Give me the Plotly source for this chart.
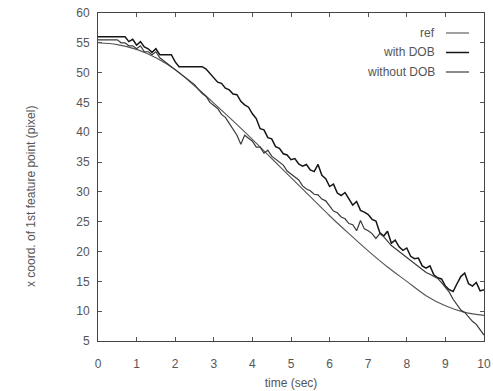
import plotly.graph_objects as go

# time axes
t_ref = [i * 0.5 for i in range(21)]
t_meas = [round(i * 0.1, 1) for i in range(101)]

ref = [55.0, 54.7, 53.9, 52.5, 50.5, 47.8, 44.9, 41.9, 38.8, 35.6, 32.4,
       29.2, 26.0, 23.0, 20.1, 17.4, 15.0, 12.6, 10.9, 9.8, 9.3]

with_dob = [56, 56, 56, 56, 56, 56, 56, 56, 55.2, 55.6,
            54.6, 55.2, 54.3, 54.0, 53.4, 54.0, 53.0, 53.0, 53.0, 53.0,
            51.8, 51.0, 51.0, 51.0, 51.0, 51.0, 51.0, 51.0, 50.6, 49.8,
            49.2, 48.4, 48.2, 47.4, 47.1, 46.4, 46.3, 45.2, 44.6, 44.2,
            43.1, 42.3, 40.6, 40.4, 39.1, 38.9, 37.6, 37.3, 36.4, 36.2,
            35.4, 35.6, 34.7, 34.3, 34.6, 33.7, 33.4, 34.6, 32.8, 32.2,
            30.9, 31.3, 29.8, 29.4, 29.9, 28.8, 27.8, 28.4, 26.9, 26.6,
            26.2, 25.4, 25.1, 23.2, 22.6, 23.4, 21.4, 21.9, 20.8, 20.2,
            20.6, 19.2, 18.8, 18.9, 17.6, 17.2, 17.6, 16.1, 15.6, 15.4,
            14.2, 13.6, 13.3, 14.6, 15.8, 16.4, 14.6, 14.2, 14.8, 13.4,
            13.6]

without_dob = [55.5, 55.5, 55.5, 55.5, 55.5, 55.5, 55.0, 55.0, 54.5, 54.5,
               54.0, 54.5, 53.5, 53.5, 53.0, 53.5, 52.5, 52.0, 51.5, 51.0,
               50.5, 50.0, 49.5, 49.0, 48.5, 48.0, 47.2, 46.5, 46.0, 45.0,
               44.5, 44.0, 43.0, 42.5, 41.5, 40.5, 39.5, 38.0, 39.5, 39.0,
               38.5, 37.5, 37.5, 36.5, 37.0, 36.0, 35.5, 35.0, 34.5, 33.5,
               33.0, 32.5, 32.0, 31.0, 30.5, 30.2, 29.6, 29.5, 28.8, 28.5,
               27.7, 26.8, 26.5, 25.8, 25.5, 24.7, 24.5, 23.5, 25.2, 23.8,
               23.5, 23.0, 22.2, 23.0, 22.5, 21.8, 21.0, 20.5, 20.0, 19.5,
               19.0, 18.5, 18.0, 17.5, 17.0, 16.5, 16.2, 15.8, 15.5, 14.8,
               14.0, 13.2, 12.0, 11.0, 10.2, 9.8, 9.0, 8.3, 7.8, 6.8,
               6.0]

x_ticks = list(range(0, 11))
y_ticks = list(range(5, 61, 5))

legend_names = ["ref", "with DOB", "without DOB"]
legend_colors = ["#555555", "#151515", "#3a3a3a"]
legend_widths = [1.1, 1.5, 1.2]

FONT = "Liberation Sans, Arial, sans-serif"
TXT = "#555555"

fig = go.Figure()
fig.add_trace(go.Scatter(x=t_ref, y=ref, mode="lines", name=legend_names[0],
                         line=dict(color=legend_colors[0], width=legend_widths[0], shape="spline")))
fig.add_trace(go.Scatter(x=t_meas, y=with_dob, mode="lines", name=legend_names[1],
                         line=dict(color=legend_colors[1], width=legend_widths[1])))
fig.add_trace(go.Scatter(x=t_meas, y=without_dob, mode="lines", name=legend_names[2],
                         line=dict(color=legend_colors[2], width=legend_widths[2])))

L, R, T, B = 98, 9, 13, 50
W, H = 493, 391
pw, ph = W - L - R, H - T - B

def px_to_paper(x, y):
    return (x - L) / pw, 1 - (y - T) / ph

annotations = []
shapes = []
for i, (nm, c, w) in enumerate(zip(legend_names, legend_colors, legend_widths)):
    yy = 33 + i * 19.5
    ax, ay = px_to_paper(437, yy)
    annotations.append(dict(x=ax, y=ay, xref="paper", yref="paper", text=nm,
                            showarrow=False, xanchor="right", yanchor="middle",
                            font=dict(family=FONT, size=12, color=TXT)))
    x0, y0 = px_to_paper(446, yy)
    x1, _ = px_to_paper(469, yy)
    shapes.append(dict(type="line", xref="paper", yref="paper", x0=x0, x1=x1,
                       y0=y0, y1=y0, line=dict(color=c, width=w)))

tx, ty = px_to_paper(31, 197)
annotations.append(dict(x=tx, y=ty, xref="paper", yref="paper",
                        text="x coord. of 1st feature point (pixel)", textangle=-90,
                        showarrow=False, xanchor="center", yanchor="middle",
                        font=dict(family=FONT, size=12, color=TXT)))

fig.update_layout(
    width=W, height=H,
    margin=dict(l=L, r=R, t=T, b=B),
    paper_bgcolor="white", plot_bgcolor="white",
    showlegend=False,
    font=dict(family=FONT, size=12, color=TXT),
    annotations=annotations,
    shapes=shapes,
    xaxis=dict(range=[0, 10], tickvals=x_ticks, ticks="inside", ticklen=4,
               tickcolor="#555555", showgrid=False, zeroline=False,
               showline=True, linecolor="#444444", linewidth=1, mirror="ticks",
               ticklabeloverflow="allow", ticklabelstandoff=12, automargin=False,
               title=dict(text="time (sec)", standoff=8,
                          font=dict(family=FONT, size=12, color=TXT)),
               tickfont=dict(family=FONT, size=12, color=TXT)),
    yaxis=dict(range=[5, 60], tickvals=y_ticks, ticks="inside", ticklen=4,
               tickcolor="#555555", showgrid=False, zeroline=False,
               showline=True, linecolor="#444444", linewidth=1, mirror="ticks",
               ticklabelstandoff=5, automargin=False,
               tickfont=dict(family=FONT, size=12, color=TXT)),
)

fig.write_html("out.html", config={"displayModeBar": False},
               post_script="document.body.style.margin='0';document.body.style.overflow='hidden';")
